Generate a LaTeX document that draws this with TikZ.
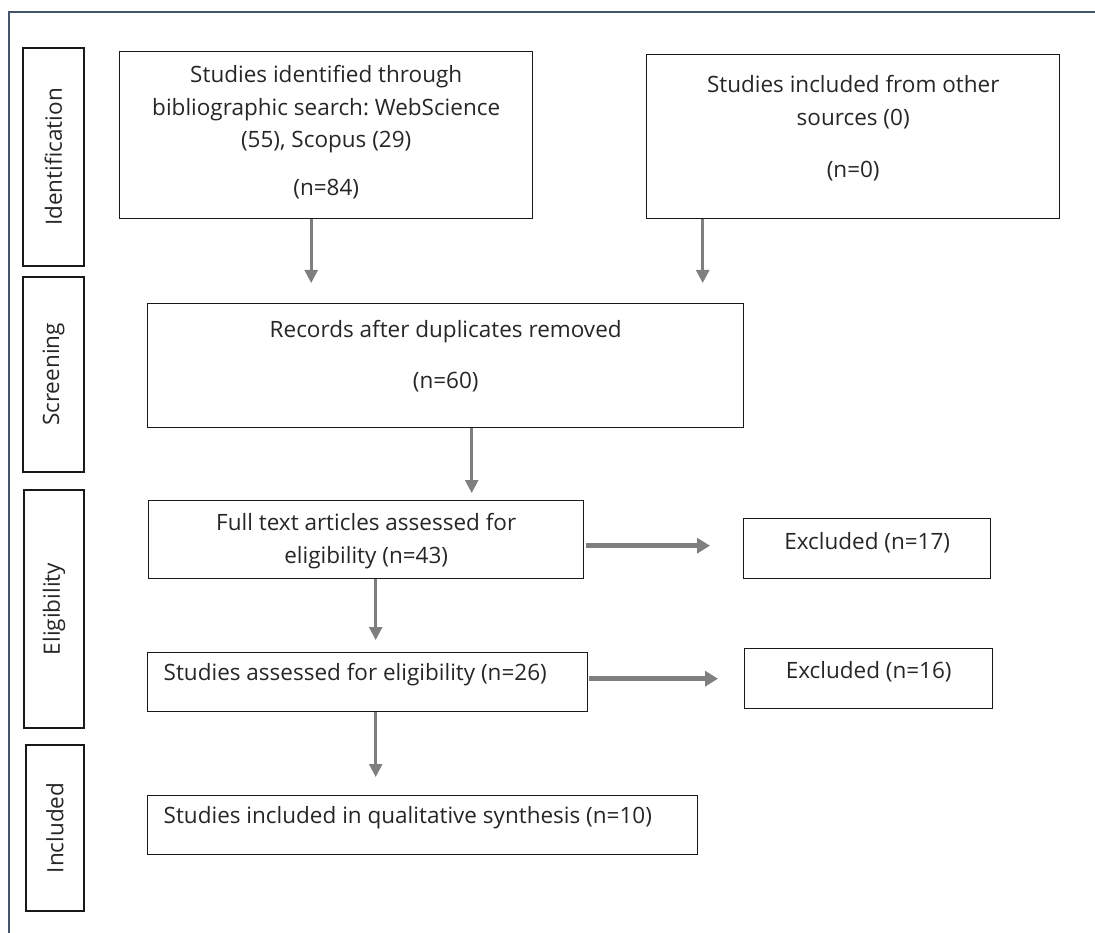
\documentclass[tikz,border=0pt]{standalone}
\usepackage{fontspec}
\setmainfont{Open Sans}
\frenchspacing
\usetikzlibrary{positioning,arrows.meta,calc}

\definecolor{framecol}{RGB}{68,84,106}
\definecolor{arrowcol}{RGB}{127,127,127}
\definecolor{textcol}{RGB}{38,38,38}

\newcommand{\cbox}[4]{\parbox[c][#2pt][t]{#1pt}{\centering\rule{0pt}{#3pt}#4}}
\newcommand{\lbox}[4]{\parbox[c][#2pt][t]{#1pt}{\raggedright\hspace*{16pt}\rule{0pt}{#3pt}#4}}

\tikzset{
	stage/.style={draw=black!90, line width=1.4pt, inner sep=0pt, anchor=north west,
		text=textcol, font=\fontsize{22.5}{32.5}\selectfont},
	phase/.style={draw=black!90, line width=1.4pt, inner sep=0pt, rotate=90,
		text=textcol, font=\fontsize{22.5}{27}\selectfont},
	down/.style={draw=arrowcol, line width=2.6pt, -{Triangle[length=13pt,width=13pt]}},
	across/.style={draw=arrowcol, line width=4.5pt, -{Triangle[length=13pt,width=15pt]}}
}

\begin{document}
\begin{tikzpicture}[x=1pt,y=-1pt]
	\useasboundingbox (0,0) rectangle (1095,933);
	\draw[framecol, line width=2pt] (9,933) -- (9,12) -- (1095,12);

	% phases
	\node[phase, minimum width=218pt, minimum height=61pt] (ident) at (53.5,157) {Identification};
	\node[phase, minimum width=195pt, minimum height=61pt] (screen) at (53.5,374.5) {Screening};
	\node[phase, minimum width=238pt, minimum height=60pt] (elig) at (54,609) {Eligibility};
	\node[phase, minimum width=166pt, minimum height=58pt] (incl) at (55,828) {Included};

	% flow boxes
	\node[stage] (search) at (119,51)
		{\cbox{413}{167}{31}{Studies identified through\\ bibliographic search: WebScience\\ (55), Scopus (29)\\[15.5pt] (n=84)}};
	\node[stage] (other) at (646,54)
		{\cbox{413}{164}{38}{Studies included from other\\ sources (0)\\[20pt] (n=0)}};
	\node[stage] (dedup) at (147,303)
		{\cbox{596}{124}{34}{Records after duplicates removed\\[18.5pt] (n=60)}};
	\node[stage] (fulltext) at (148,500)
		{\cbox{435}{78}{30}{Full text articles assessed for\\ eligibility (n=43)}};
	\node[stage] (excl1) at (743,518)
		{\cbox{247}{60}{31}{Excluded (n=17)}};
	\node[stage] (assess) at (147,652)
		{\lbox{440}{59}{28}{Studies assessed for eligibility (n=26)}};
	\node[stage] (excl2) at (744,648)
		{\cbox{248}{60}{30}{Excluded (n=16)}};
	\node[stage] (synth) at (147,795)
		{\lbox{550}{59}{28}{Studies included in qualitative synthesis (n=10)}};

	% arrow starts
	\coordinate (s1) at ($(search.south)+(-15,0)$);
	\coordinate (s2) at ($(other.south)+(-150.5,0)$);
	\coordinate (s3) at ($(dedup.south)+(26,0)$);
	\coordinate (s4) at ($(fulltext.south)+(9.5,0)$);
	\coordinate (s5) at ($(assess.south)+(8,0)$);
	\coordinate (e1) at ($(fulltext.east)+(0,6)$);
	\coordinate (e2) at ($(assess.east)+(0,-3.5)$);

	\draw[down, shorten >=20pt] (s1) -- (s1 |- dedup.north);
	\draw[down, shorten >=20pt] (s2) -- (s2 |- dedup.north);
	\draw[down, shorten >=7pt] (s3) -- (s3 |- fulltext.north);
	\draw[down, shorten >=12pt] (s4) -- (s4 |- assess.north);
	\draw[down, shorten >=18pt] (s5) -- (s5 |- synth.north);
	\draw[across, shorten <=2pt, shorten >=33pt] (e1) -- (e1 -| excl1.west);
	\draw[across, shorten <=1pt, shorten >=26pt] (e2) -- (e2 -| excl2.west);
\end{tikzpicture}
\end{document}
